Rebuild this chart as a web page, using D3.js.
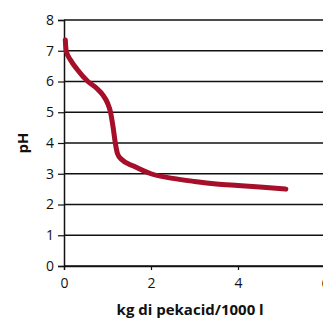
<!DOCTYPE html>
<html>
<head>
<meta charset="utf-8">
<script src="https://cdn.jsdelivr.net/npm/d3@7"></script>
<style>
  body { margin: 0; background: #fff; }
  svg { display: block; font-family: "Open Sans", sans-serif; }
</style>
</head>
<body>
<svg width="323" height="318"></svg>
<script>
// Data
const doseKg = [0.03, 0.05, 0.15, 0.3, 0.55, 0.75, 0.9, 1.0, 1.07, 1.13, 1.18, 1.23, 1.32, 1.6, 2.0, 2.5, 3.0, 3.5, 4.0, 4.5, 5.1];
const phValues = [7.35, 7.0, 6.7, 6.4, 6.0, 5.78, 5.55, 5.3, 5.0, 4.5, 4.0, 3.65, 3.47, 3.25, 3.0, 2.85, 2.75, 2.67, 2.62, 2.57, 2.5];
const xTicks = [0, 2, 4, 6];
const yTicks = [0, 1, 2, 3, 4, 5, 6, 7, 8];

const width = 323;
const height = 318;
const margin = { top: 20, right: -2, bottom: 52, left: 64 };
const innerWidth = width - margin.left - margin.right;
const innerHeight = height - margin.top - margin.bottom;

const svg = d3.select('svg')
    .append('g')
    .attr('transform', `translate(${margin.left},${margin.top})`);

const xScale = d3.scaleLinear().domain([0, 6]).range([0, innerWidth]);
const yScale = d3.scaleLinear().domain([0, 8]).range([innerHeight, 0]);

// Gridlines
svg.append('g')
    .selectAll('line')
    .data(yTicks)
    .join('line')
    .attr('x1', 0)
    .attr('x2', width)
    .attr('y1', d => yScale(d))
    .attr('y2', d => yScale(d))
    .attr('stroke', '#111')
    .attr('stroke-width', 1.5);

// Axes
const yAxisG = svg.append('g')
    .call(d3.axisLeft(yScale).tickValues(yTicks).tickSize(6).tickPadding(4).tickFormat(d3.format('d')));
const xAxisG = svg.append('g')
    .attr('transform', `translate(0, ${innerHeight})`)
    .call(d3.axisBottom(xScale).tickValues(xTicks).tickSize(4).tickPadding(8).tickFormat(d3.format('d')));

[yAxisG, xAxisG].forEach(g => {
    g.select('.domain').attr('stroke', '#111').attr('stroke-width', 1.5);
    g.selectAll('.tick line').attr('stroke', '#111').attr('stroke-width', 1.2);
    g.selectAll('.tick text')
        .attr('fill', '#111')
        .style('font-size', '14px')
        .style('font-family', '"Open Sans", sans-serif');
});
xAxisG.selectAll('.tick').filter(d => d === 0).select('line').remove();

// Curve
const line = d3.line()
    .x((d, i) => xScale(doseKg[i]))
    .y(d => yScale(d))
    .curve(d3.curveMonotoneX);

svg.append('path')
    .datum(phValues)
    .attr('d', line)
    .attr('fill', 'none')
    .attr('stroke', '#A50F2A')
    .attr('stroke-width', 5)
    .attr('stroke-linecap', 'round')
    .attr('stroke-linejoin', 'round');

// Axis titles
svg.append('text')
    .attr('transform', `translate(-36, ${innerHeight / 2}) rotate(-90)`)
    .attr('text-anchor', 'middle')
    .style('font-size', '15px')
    .style('font-weight', 'bold')
    .attr('fill', '#111')
    .text('pH');

svg.append('text')
    .attr('x', xScale(2.9))
    .attr('y', innerHeight + 49)
    .attr('text-anchor', 'middle')
    .style('font-size', '15px')
    .style('font-weight', 'bold')
    .attr('fill', '#111')
    .text('kg di pekacid/1000 l');
</script>
</body>
</html>
